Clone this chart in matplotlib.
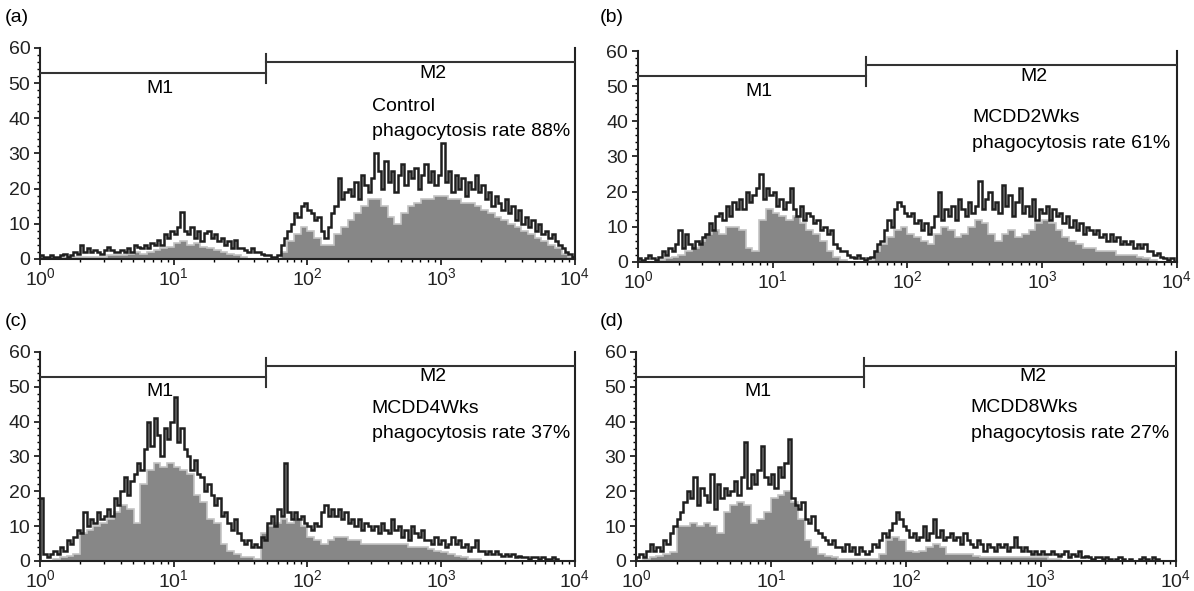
import numpy as np
import matplotlib
matplotlib.use("Agg")
import matplotlib.pyplot as plt
from matplotlib.ticker import MultipleLocator, LogLocator, FixedLocator

plt.rcParams['font.family'] = ['Liberation Sans', 'DejaVu Sans']
plt.rcParams['mathtext.fontset'] = 'custom'
plt.rcParams['mathtext.rm'] = 'Liberation Sans'
plt.rcParams['mathtext.it'] = 'Liberation Sans'

# histogram counts, 40 channels per decade (outline)
# and 20 channels per decade (grey filled curve), from 10^0 to 10^4
outline_a = [1, 0.5, 0.5, 1, 0.5, 0.5, 1, 1.5, 0.5, 1, 2, 1.5,
             4, 2, 3, 2, 2.5, 2, 1.5, 2.5,
             3.5, 2.5, 2, 2, 2.5, 2, 3, 2,
             4, 3.5, 3, 4,
             3, 4.5, 4, 5.5, 4, 7, 6, 8,
             7, 9, 13.5, 8,
             7, 9, 6, 8, 5, 7.5, 8, 6,
             7, 5, 6, 4, 5, 3, 5.5, 3,
             3, 2.5, 2, 3, 2, 2, 1.5, 1,
             1, 0.5, 0.5, 1,
             4, 6, 8, 10, 13, 12, 15, 16,
             14, 13, 11, 12,
             8, 6, 9, 13,
             15, 23, 17, 19,
             20, 18, 22, 17, 24, 21, 19, 23,
             30, 25, 20, 28,
             22, 25, 19, 24, 27, 21, 25, 23,
             26, 20, 24, 27, 22, 25, 21, 24,
             33, 22, 25, 19,
             24, 20, 23, 18, 22, 20, 24, 19,
             21, 17, 19, 15, 18, 16, 14, 17,
             13, 15, 11, 14, 10, 12, 9, 11,
             8, 10, 7, 8, 6, 7, 5, 4,
             3, 2, 1.5, 0.5]
fill_a = [0, 0, 0, 0.5, 0.5, 0.5, 0.5, 0.5, 0.5, 0.5, 1, 1, 1, 1.5, 2, 1.5, 2, 2.5, 3, 3.5,
          4.5, 5, 4, 4.5, 3.5, 3, 2.5, 2, 1.5, 1, 0.5, 0, 0, 0, 0, 0, 2, 5, 7, 9,
          8, 6, 4, 4, 7, 9, 11, 13, 15, 17, 17, 15, 12, 10, 13, 15, 16, 17, 17, 18,
          18, 17, 17, 16, 16, 15, 14, 13, 12, 11, 10, 9, 8, 7, 6, 5, 4, 3, 1.5, 0.5]

outline_b = [1, 0.5, 1, 2, 1, 0.5, 1.5, 3,
             2, 4, 3, 5, 9, 4,
             8, 5, 4, 6, 5, 7,
             8, 11, 9, 13,
             14, 12, 16, 13, 17, 15,
             18, 15, 20, 17, 19, 21,
             25, 18, 21, 19,
             20, 16, 18, 15, 17, 21,
             15, 13, 16, 12, 14, 13,
             11, 12, 9, 10, 8, 9,
             5, 4, 3, 3,
             2, 1.5, 1, 2,
             1, 0.5, 1, 1.5,
             3, 5, 6, 9, 12, 10,
             15, 17, 16, 14,
             13, 14, 11, 12,
             9, 11, 8, 10,
             13, 20, 12, 15,
             13, 16, 12, 18, 15, 13, 17, 14,
             16, 23, 15, 18,
             20, 15, 17, 14, 22, 16, 19, 13,
             17, 21, 14, 16, 13, 18, 12, 15,
             14, 16, 12, 15, 13, 14, 11, 13,
             10, 12, 9, 11, 8, 10, 9, 8,
             9, 7, 8, 6, 8, 6, 7, 5,
             6, 5, 6, 4, 5, 4, 5, 3,
             3, 2, 2.5, 1.5,
             1, 0.5, 1, 0]
fill_b = [0, 0, 0, 0.5, 1, 1.5, 2, 3, 4, 6, 8, 9, 8, 10, 10, 9, 4, 3, 12, 15,
          14, 13, 12, 13, 11, 9, 8, 6, 3, 1.5, 0.5, 0, 0, 0, 0.5, 3, 5, 7, 9, 10,
          8, 7, 6, 5, 8, 10, 9, 7, 8, 10, 12, 11, 8, 6, 8, 9, 7, 8, 9, 11,
          12, 11, 9, 7, 6, 5, 4, 4, 3, 3, 3, 2, 2, 2, 1.5, 1, 0.5, 0, 0, 0]

outline_c = [18, 2, 1, 2, 3, 2,
             4, 3, 6, 5, 7, 9,
             8, 14, 10, 12,
             11, 14, 12, 13,
             15, 13, 18, 16,
             20, 24, 19, 23,
             25, 28, 26, 32,
             40, 33, 41, 36,
             30, 38, 35, 40,
             47, 34, 38, 32,
             30, 26, 29, 25,
             24, 20, 22, 19,
             16, 18, 13, 14,
             11, 9, 12, 8,
             6, 5, 6, 4,
             5, 4, 7, 6,
             11, 13, 10, 15,
             13, 28, 14, 12,
             14, 12, 13, 11,
             10, 9, 11, 10,
             14, 16, 13, 15,
             13, 15, 12, 14,
             11, 12, 10, 12, 9, 11, 10, 9,
             10, 8, 11, 9, 8, 12, 9, 10,
             7, 9, 6, 10, 8, 7, 9, 6,
             6, 5, 7, 5,
             6, 4, 5, 7,
             5, 6, 4, 5, 3, 4, 6, 3,
             3, 2, 3, 2, 3, 2, 1.5, 2,
             1.5, 2, 1, 1.5, 1, 1, 0.5, 1,
             1, 0.5, 1, 0.5, 0.5, 1, 0.5, 0,
             0, 0, 0, 0]
fill_c = [0, 0, 0.5, 1, 1.5, 2, 8, 9, 10, 11, 12, 14, 16, 15, 11, 22, 26, 28, 27, 28,
          27, 26, 25, 19, 17, 12, 11, 5, 3, 2, 1, 1, 0.5, 8, 10, 11, 12, 11, 12, 10,
          7, 6, 5, 6, 7, 7, 6, 6, 5, 5, 5, 5, 5, 5, 5, 4, 4, 4, 3.5, 3,
          2.5, 2, 1.5, 1, 0.5, 0.5, 0, 0, 0, 0, 0, 0, 0, 0, 0, 0, 0, 0, 0, 0]

outline_d = [1, 2, 1, 3,
             5, 3, 4, 3,
             6, 5, 8, 10,
             12, 14, 17, 20,
             18, 24, 16, 21,
             19, 17, 25, 15,
             22, 18, 21, 19,
             20, 23, 19, 24,
             34, 21, 25, 22,
             26, 33, 24, 22,
             25, 21, 27, 24,
             28, 35, 18, 16,
             15, 17, 12, 11,
             13, 9, 8, 7,
             6, 5, 6, 4,
             4, 3, 5, 3,
             4, 2, 4, 3,
             2, 3, 5, 4,
             6, 8, 7, 9,
             11, 14, 12, 10,
             9, 7, 8, 6,
             7, 10, 6, 8,
             12, 7, 9, 6,
             7, 8, 6, 7, 5, 8, 6, 5,
             4, 6, 5, 3, 5, 4, 3, 5,
             4, 5, 3, 4, 7, 4, 3, 4,
             3, 2, 3, 2,
             3, 2, 2, 3,
             2, 1.5, 2, 3, 1, 2, 1.5, 3,
             1, 1.5, 1, 0.5, 1, 1, 0.5, 1,
             0.5, 0, 0.5, 1, 0.5, 0, 0.5, 0,
             0, 0.5, 1, 0.5, 0, 1, 0.5, 0,
             0, 0, 0, 0]
fill_d = [0, 0.5, 1, 1.5, 2, 2.5, 10, 10, 11, 10, 11, 10, 8, 14, 16, 17, 16, 11, 12, 14,
          18, 19, 20, 17, 12, 6, 4, 2, 1.5, 1, 0.5, 0.5, 0.5, 0.5, 0.5, 0.5, 2, 6, 7, 6,
          3, 2.5, 3, 4, 5, 4, 2, 2, 2, 2, 1.5, 1, 1, 1, 1, 1, 1, 1, 1, 1,
          1, 0.5, 0.5, 0, 0, 0, 0, 0, 0, 0, 0, 0, 0, 0, 0, 0, 0, 0, 0, 0]

panel_tags = ['(a)', '(b)', '(c)', '(d)']
group_names = ['Control', 'MCDD2Wks', 'MCDD4Wks', 'MCDD8Wks']
phago_rates = [88, 61, 37, 27]
gate_split = 49          # M1 / M2 boundary
y_ticks = [0, 10, 20, 30, 40, 50, 60]
x_tick_labels = ['$10^0$', '$10^1$', '$10^2$', '$10^3$', '$10^4$']

outlines = [outline_a, outline_b, outline_c, outline_d]
fills = [fill_a, fill_b, fill_c, fill_d]

# axes boxes in figure fraction [left, bottom, width, height]
boxes = [[0.0335, 0.5618, 0.448, 0.357],
         [0.5343, 0.5567, 0.4514, 0.357],
         [0.0335, 0.0508, 0.448, 0.354],
         [0.5327, 0.0508, 0.452, 0.354]]
tag_pos = [(5, 18), (600, 18), (5, 322), (600, 322)]
note_y = [(43.3, 36.2), (41.0, 33.8), (43.7, 36.5), (44.1, 36.5)]

fig = plt.figure(figsize=(11.94, 5.91), dpi=100)

for i in range(4):
    ax = fig.add_axes(boxes[i])
    out = np.array(outlines[i], dtype=float)
    fl = np.array(fills[i], dtype=float)
    edges_out = np.logspace(0, 4, len(out) + 1)
    edges_fill = np.logspace(0, 4, len(fl) + 1)

    ax.stairs(fl, edges_fill, fill=True, color='#878787', zorder=1)
    ax.stairs(fl, edges_fill, color='#c4c4c4', lw=1.2, zorder=1.5)
    ax.stairs(out, edges_out, color='#1e1e1e', lw=1.8, zorder=2)

    # M1 / M2 gate markers
    ax.plot([1, gate_split], [52.8, 52.8], color='#333333', lw=1.5, zorder=3)
    ax.plot([gate_split, 1e4], [56, 56], color='#333333', lw=1.5, zorder=3)
    ax.plot([gate_split, gate_split], [50, 58.3], color='#333333', lw=1.5, zorder=3)
    ax.text(10 ** 0.9, 48.6, 'M1', fontsize=14, ha='center', va='center')
    ax.text(10 ** 2.94, 52.8, 'M2', fontsize=14, ha='center', va='center')

    ax.text(10 ** 2.48, note_y[i][0], group_names[i], fontsize=14, ha='left', va='center')
    ax.text(10 ** 2.48, note_y[i][1], 'phagocytosis rate %d%%' % phago_rates[i],
            fontsize=14, ha='left', va='center')

    ax.set_xscale('log')
    ax.set_xlim(1, 1e4)
    ax.set_ylim(0, 60)
    ax.xaxis.set_major_locator(FixedLocator([1, 10, 100, 1000, 10000]))
    ax.set_xticklabels(x_tick_labels)
    ax.xaxis.set_minor_locator(LogLocator(base=10, subs=np.arange(2, 10)))
    ax.set_yticks(y_ticks)
    ax.yaxis.set_minor_locator(MultipleLocator(2))
    ax.tick_params(axis='both', which='major', direction='out', length=4,
                   width=1.3, labelsize=14, pad=3, colors='#222222')
    ax.tick_params(axis='both', which='minor', direction='out', length=2.5, width=1)
    ax.tick_params(axis='x', which='major', pad=2)
    ax.spines['top'].set_visible(False)
    for s in ['left', 'bottom', 'right']:
        ax.spines[s].set_linewidth(1.5)
        ax.spines[s].set_color('#222222')
    ax.patch.set_alpha(0)

    fig.text(tag_pos[i][0] / 1194, 1 - tag_pos[i][1] / 591, panel_tags[i],
             fontsize=14, ha='left', va='center')

plt.savefig('out.png', dpi=100)
